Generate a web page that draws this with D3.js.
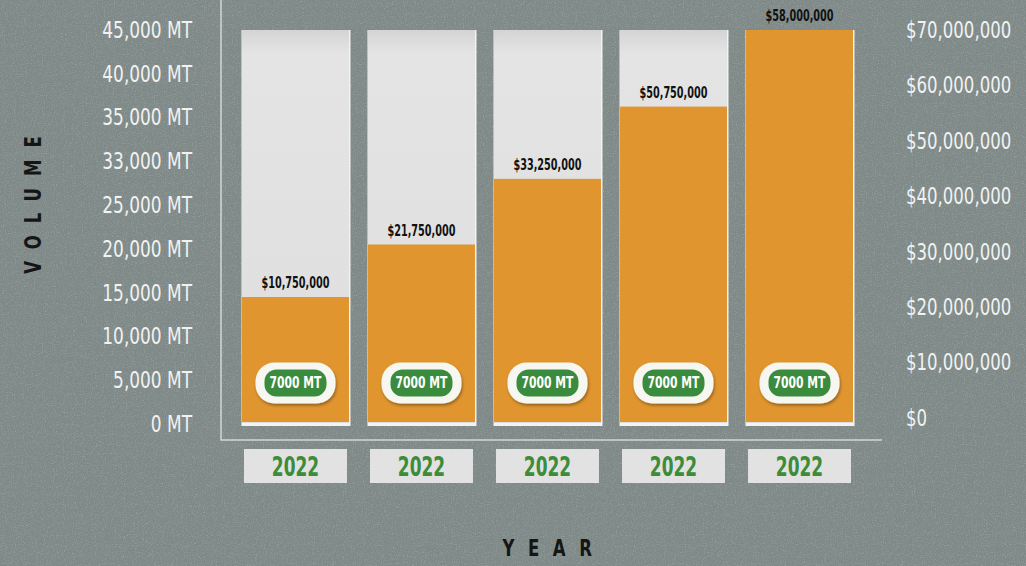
<!DOCTYPE html>
<html lang="en">
<head>
<meta charset="utf-8">
<title>Volume and revenue by year</title>
<script src="https://cdn.jsdelivr.net/npm/d3@7"></script>
<style type="text/css">
body {
  margin: 0;
  background: #7f8987;
}
.tick_label {
  font-family: "Liberation Sans Narrow", "DejaVu Sans Condensed", sans-serif;
  font-size: 23px;
  fill: #f2f2f2;
}
.rev_label {
  font-family: "Liberation Sans Narrow", "DejaVu Sans Condensed", sans-serif;
  font-weight: bold;
  font-size: 15px;
  fill: #111;
}
.badge_label {
  font-family: "Liberation Sans Narrow", "DejaVu Sans Condensed", sans-serif;
  font-weight: bold;
  font-size: 15px;
  fill: #fff;
}
.year_label {
  font-family: "Liberation Sans Narrow", "DejaVu Sans Condensed", sans-serif;
  font-weight: bold;
  font-size: 27px;
  fill: #3c8c3a;
}
.axis_title {
  font-family: "Liberation Sans Narrow", "DejaVu Sans Condensed", sans-serif;
  font-weight: bold;
  font-size: 23px;
  fill: #151515;
}
</style>
</head>
<body>
<script type="text/javascript">

var years = ["2022", "2022", "2022", "2022", "2022"];
var volumes = [14500, 20500, 28000, 36250, 45000];
var revenue_labels = ["$10,750,000", "$21,750,000", "$33,250,000", "$50,750,000", "$58,000,000"];
var badge_labels = ["7000 MT", "7000 MT", "7000 MT", "7000 MT", "7000 MT"];
var volume_ticks = [0, 5000, 10000, 15000, 20000, 25000, 30000, 35000, 40000, 45000];
var volume_tick_labels = ["0 MT", "5,000 MT", "10,000 MT", "15,000 MT", "20,000 MT",
                          "25,000 MT", "33,000 MT", "35,000 MT", "40,000 MT", "45,000 MT"];
var revenue_ticks = [0, 10000000, 20000000, 30000000, 40000000, 50000000, 60000000, 70000000];
var volume_max = 45000;

var W = 1026, H = 566;
var orange = "#e0952f", green = "#3b8b3e";

// narrow the condensed font a bit more (no narrow face installed)
function squeeze(k) { return " scale(" + k + ",1)"; }

var svg = d3.select("body").append("svg")
    .attr("width", W)
    .attr("height", H);

// concrete texture background
var defs = svg.append("defs");
var noise = defs.append("filter").attr("id", "noise")
    .attr("x", 0).attr("y", 0).attr("width", "100%").attr("height", "100%");
noise.append("feTurbulence")
    .attr("type", "fractalNoise")
    .attr("baseFrequency", 0.9)
    .attr("numOctaves", 2)
    .attr("seed", 3);
noise.append("feColorMatrix")
    .attr("type", "matrix")
    .attr("values", "0 0 0 0 0.42  0 0 0 0 0.47  0 0 0 0 0.46  -1.4 -1.4 0 0 1.45");

var shadow = defs.append("filter").attr("id", "shadow")
    .attr("x", "-20%").attr("y", "-20%").attr("width", "140%").attr("height", "160%");
shadow.append("feDropShadow")
    .attr("dx", 1).attr("dy", 2).attr("stdDeviation", 1.5)
    .attr("flood-color", "#000").attr("flood-opacity", 0.35);

var grad = defs.append("linearGradient").attr("id", "bgGrad")
    .attr("x1", 0).attr("y1", 0).attr("x2", 0).attr("y2", 1);
grad.append("stop").attr("offset", "0%").attr("stop-color", "#d4d4d4");
grad.append("stop").attr("offset", "6%").attr("stop-color", "#e4e4e4");
grad.append("stop").attr("offset", "100%").attr("stop-color", "#dedede");

svg.append("rect").attr("width", W).attr("height", H).attr("fill", "#7f8a88");
svg.append("rect").attr("width", W).attr("height", H)
    .attr("filter", "url(#noise)").attr("opacity", 0.6);

// scales
var xScale = d3.scaleBand()
    .domain(d3.range(years.length))
    .range([242, 853])
    .paddingInner(0.151)
    .paddingOuter(0);

var yScale = d3.scaleLinear()
    .domain([0, volume_max])
    .range([424, 30]);

var yRev = d3.scaleLinear()
    .domain([0, 70000000])
    .range([418, 30]);

// axis frame
svg.append("path")
    .attr("d", "M221,0 V440 H882")
    .attr("fill", "none")
    .attr("stroke", "#d4d6d4")
    .attr("stroke-width", 1.5);

// left axis labels
var leftAxis = d3.axisLeft(yScale)
    .tickValues(volume_ticks)
    .tickSize(0)
    .tickPadding(0)
    .tickFormat(function(d, i) { return volume_tick_labels[i]; });

var gLeft = svg.append("g")
    .attr("transform", "translate(192,0)")
    .call(leftAxis);
gLeft.select(".domain").remove();
gLeft.selectAll("text")
    .attr("class", "tick_label")
    .attr("fill", null)
    .attr("transform", squeeze(0.82));

// right axis labels
var rightAxis = d3.axisRight(yRev)
    .tickValues(revenue_ticks)
    .tickSize(0)
    .tickPadding(0)
    .tickFormat(function(d) { return d === 0 ? "$0" : "$" + d3.format(",")(d); });

var gRight = svg.append("g")
    .attr("transform", "translate(906,0)")
    .call(rightAxis);
gRight.select(".domain").remove();
gRight.selectAll("text")
    .attr("class", "tick_label")
    .attr("fill", null)
    .attr("transform", squeeze(0.8));

// bars
var bars = svg.selectAll(".bar_group")
    .data(volumes)
    .enter()
    .append("g")
    .attr("class", "bar_group");

bars.append("rect")   // white edge
    .attr("x", function(d, i) { return xScale(i) - 0.5; })
    .attr("y", yScale(volume_max))
    .attr("width", xScale.bandwidth() + 2)
    .attr("height", yScale(0) - yScale(volume_max) + 2)
    .attr("fill", "#f3f3f3");

bars.append("rect")
    .attr("x", function(d, i) { return xScale(i); })
    .attr("y", yScale(volume_max))
    .attr("width", xScale.bandwidth())
    .attr("height", yScale(0) - yScale(volume_max) - 1)
    .attr("fill", "url(#bgGrad)");

bars.append("rect")
    .attr("x", function(d, i) { return xScale(i); })
    .attr("y", function(d) { return yScale(d); })
    .attr("width", xScale.bandwidth())
    .attr("height", function(d) { return yScale(0) - yScale(d) - 2; })
    .attr("fill", orange);

bars.append("text")
    .attr("class", "rev_label")
    .attr("transform", function(d, i) {
        return "translate(" + (xScale(i) + xScale.bandwidth() / 2) + "," + (yScale(d) - 9) + ")" + squeeze(0.72);
    })
    .attr("text-anchor", "middle")
    .text(function(d, i) { return revenue_labels[i]; });

// green badges
var badge = bars.append("g")
    .attr("transform", function(d, i) {
        return "translate(" + (xScale(i) + xScale.bandwidth() / 2) + "," + (yScale(0) - 41) + ")";
    });

badge.append("rect")
    .attr("x", -40).attr("y", -20.5)
    .attr("width", 80).attr("height", 41)
    .attr("rx", 19)
    .attr("fill", "#f7f7f2")
    .attr("filter", "url(#shadow)");

badge.append("rect")
    .attr("x", -31).attr("y", -13.5)
    .attr("width", 62).attr("height", 27)
    .attr("rx", 12)
    .attr("fill", green);

badge.append("text")
    .attr("class", "badge_label")
    .attr("transform", "translate(0,5)" + squeeze(0.8))
    .attr("text-anchor", "middle")
    .text(function(d, i) { return badge_labels[i]; });

// year boxes
var yearBox = svg.selectAll(".year_box")
    .data(years)
    .enter()
    .append("g")
    .attr("class", "year_box");

yearBox.append("rect")
    .attr("x", function(d, i) { return xScale(i) + 2; })
    .attr("y", yScale(0) + 25)
    .attr("width", xScale.bandwidth() - 4)
    .attr("height", 34)
    .attr("fill", "#e2e2e2");

yearBox.append("text")
    .attr("class", "year_label")
    .attr("transform", function(d, i) {
        return "translate(" + (xScale(i) + xScale.bandwidth() / 2) + "," + (yScale(0) + 52) + ")" + squeeze(0.7);
    })
    .attr("text-anchor", "middle")
    .text(function(d) { return d; });

// axis titles
svg.append("text")
    .attr("class", "axis_title")
    .attr("transform", "translate(41,199) rotate(-90)" + squeeze(0.8))
    .attr("text-anchor", "middle")
    .attr("letter-spacing", "15px")
    .text("VOLUME");

svg.append("text")
    .attr("class", "axis_title")
    .attr("transform", "translate(554,556)" + squeeze(0.8))
    .attr("text-anchor", "middle")
    .attr("letter-spacing", "17px")
    .text("YEAR");

</script>
</body>
</html>
